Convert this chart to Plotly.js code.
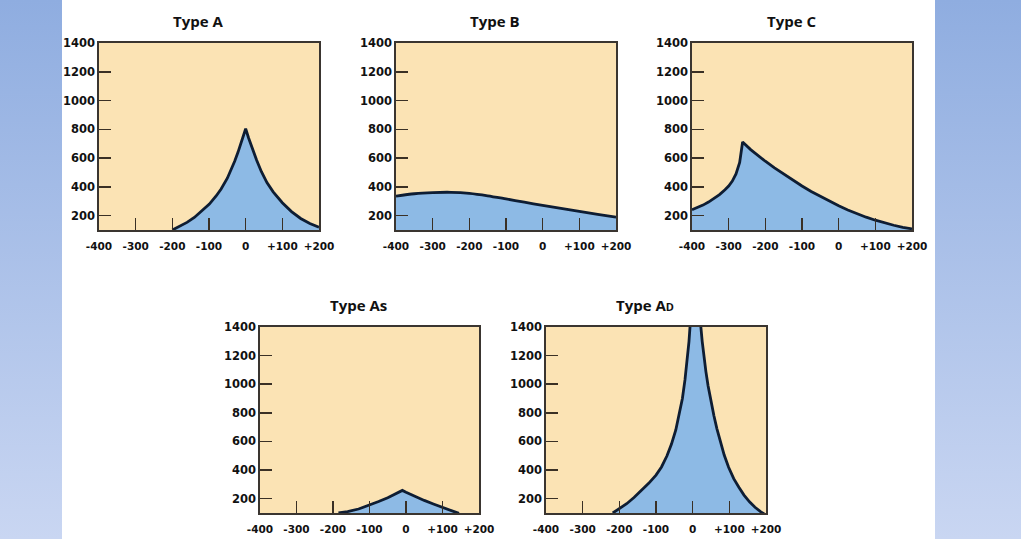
<!DOCTYPE html>
<html>
<head>
<meta charset="utf-8">
<script src="https://cdn.plot.ly/plotly-3.0.1.min.js"></script>
<style>
  html, body { margin:0; padding:0; background:#ffffff; }
  #wrap { position:relative; width:1021px; height:539px; overflow:hidden; background:#ffffff; }
  .side { position:absolute; top:0; height:539px; background:linear-gradient(to bottom, #8fade0, #c9d6f2); }
  #sideL { left:0; width:62px; }
  #sideR { left:935px; width:86px; }
  #chart { position:absolute; left:0; top:0; width:1021px; height:539px; }
</style>
</head>
<body>
<div id="wrap">
  <div class="side" id="sideL"></div>
  <div class="side" id="sideR"></div>
  <div id="chart"></div>
</div>
<script>
// ---- data ----
const titles = ["Type A", "Type B", "Type C", "Type As", "Type A<span style='font-size:11px'>D</span>"];

const xTickVals = [-400, -300, -200, -100, 0, 100, 200];
const xTickText = ["-400", "-300", "-200", "-100", "0", "+100", "+200"];
const yTickVals = [200, 400, 600, 800, 1000, 1200, 1400];
const yTickText = ["200", "400", "600", "800", "1000", "1200", "1400"];

const typeA_x = [-200, -180, -160, -140, -120, -99, -80, -67, -50, -39, -30, -21, -14, -7, 0,
                 8, 18, 30, 43, 58, 75, 100, 125, 150, 175, 200];
const typeA_y = [100, 124, 153, 187, 230, 280, 338, 385, 460, 523, 578, 640, 690, 740, 804,
                 740, 665, 585, 505, 430, 365, 290, 228, 180, 145, 119];

const typeB_x = [-400, -350, -300, -250, -200, -150, -100, -50, 0, 50, 100, 150, 200];
const typeB_y = [335, 352, 360, 362, 355, 338, 316, 293, 271, 250, 229, 209, 189];

const typeC_x = [-400, -385, -370, -355, -340, -325, -310, -300, -290, -280, -270, -262,
                 -240, -220, -200, -175, -150, -125, -100, -75, -50, -25, 0, 25, 50, 75, 100, 125, 150, 175, 200];
const typeC_y = [241, 256, 273, 294, 318, 346, 380, 406, 440, 490, 570, 712,
                 659, 617, 578, 532, 488, 446, 406, 368, 333, 299, 268, 239, 213, 189, 168, 149, 133, 119, 108];

const typeAs_x = [-185, -160, -130, -100, -75, -50, -30, -10, 0, 25, 50, 75, 100, 125, 145];
const typeAs_y = [100, 110, 128, 155, 180, 207, 230, 258, 245, 214, 188, 163, 140, 117, 97];

const typeAD_x = [-218, -200, -180, -160, -140, -120, -100, -85, -70, -58, -46, -36, -28, -21, -15, -10, -7,
                  22, 26, 30, 36, 42, 50, 58, 66, 76, 86, 98, 112, 126, 140, 155, 170, 185, 195];
const typeAD_y = [100, 128, 165, 208, 255, 307, 365, 422, 500, 580, 680, 790, 900, 1030, 1170, 1300, 1410,
                  1410, 1300, 1200, 1090, 990, 880, 780, 690, 590, 505, 420, 340, 280, 225, 178, 140, 110, 93];

// ---- styling / layout ----
const series = [
  {x: typeA_x,  y: typeA_y,  shape: "linear", dx: [99, 319],  dy: [43, 230]},
  {x: typeB_x,  y: typeB_y,  shape: "spline", dx: [396, 616], dy: [43, 230]},
  {x: typeC_x,  y: typeC_y,  shape: "linear", dx: [692, 912], dy: [43, 230]},
  {x: typeAs_x, y: typeAs_y, shape: "linear", dx: [260, 479], dy: [327, 513]},
  {x: typeAD_x, y: typeAD_y, shape: "linear", dx: [546, 766], dy: [327, 513]}
];

const W = 1021, H = 539;
const fill = "#8dbae5", lineCol = "#0e1d33", bg = "#fbe3b4";
const fontFam = "DejaVu Sans, Verdana, sans-serif";

const traces = [];
const layout = {
  width: W, height: H,
  margin: {l:0, r:0, t:0, b:0},
  paper_bgcolor: "rgba(0,0,0,0)",
  plot_bgcolor: bg,
  showlegend: false,
  annotations: []
};

series.forEach((s, i) => {
  const n = i + 1;
  const xa = n === 1 ? "x" : "x" + n;
  const ya = n === 1 ? "y" : "y" + n;
  traces.push({
    type: "scatter", mode: "lines", x: s.x, y: s.y,
    xaxis: xa, yaxis: ya,
    fill: "tozeroy", fillcolor: fill,
    line: {color: lineCol, width: 2.8, shape: s.shape, smoothing: 0.8},
    hoverinfo: "skip"
  });
  const axCommon = {
    showline: true, mirror: true, linecolor: "#3a3530", linewidth: 1.6,
    showgrid: false, zeroline: false,
    ticks: "inside", ticklen: 12, tickwidth: 1.6, tickcolor: "#3a3025",
    tickmode: "array", fixedrange: true
  };
  layout["xaxis" + (n === 1 ? "" : n)] = Object.assign({}, axCommon, {
    domain: [s.dx[0] / W, s.dx[1] / W],
    anchor: ya, range: [-400, 200],
    tickvals: xTickVals, ticktext: xTickText, ticklabelstandoff: 6,
    tickfont: {family: fontFam, size: 10.5, color: "#111111", weight: "bold"}
  });
  layout["yaxis" + (n === 1 ? "" : n)] = Object.assign({}, axCommon, {
    domain: [1 - s.dy[1] / H, 1 - s.dy[0] / H],
    anchor: xa, range: [100, 1400],
    tickvals: yTickVals, ticktext: yTickText,
    tickfont: {family: fontFam, size: 11.5, color: "#111111", weight: "bold"}
  });
  layout.annotations.push({
    xref: "paper", yref: "paper",
    x: ((s.dx[0] + s.dx[1]) / 2 - 11) / W,
    y: 1 - (s.dy[0] - 22.5) / H,
    xanchor: "center", yanchor: "middle",
    text: titles[i], showarrow: false,
    font: {family: "Open Sans, sans-serif", size: 15, color: "#111111", weight: "bold"}
  });
});

Plotly.newPlot("chart", traces, layout, {staticPlot: true, displayModeBar: false});
</script>
</body>
</html>
